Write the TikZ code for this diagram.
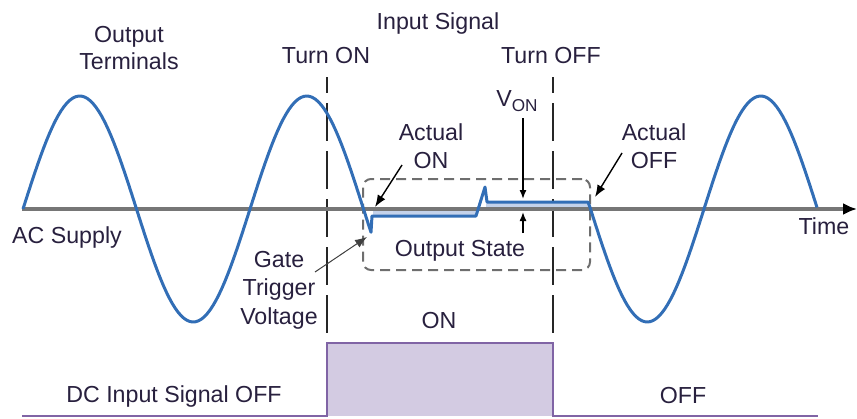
\documentclass[tikz,border=0pt]{standalone}
\usepackage{fontspec}
\setmainfont{Liberation Sans}
\usetikzlibrary{arrows.meta,positioning,calc}
\definecolor{waveBlue}{RGB}{50,110,182}
\definecolor{bandBlue}{RGB}{196,210,234}
\definecolor{axisGray}{RGB}{118,118,118}
\definecolor{boxGray}{RGB}{110,110,110}
\definecolor{pulseLine}{RGB}{128,100,165}
\definecolor{pulseFill}{RGB}{211,203,226}
\definecolor{labelInk}{RGB}{40,32,62}

\begin{document}
\begin{tikzpicture}[x=0.5pt,y=-0.5pt,
    lbl/.style={font=\fontsize{11.6}{13.8}\selectfont,text=labelInk,align=center,inner sep=0pt},
    wave/.style={waveBlue,line width=1.5pt,line join=round},
    guide/.style={black!85,line width=1pt,dash pattern=on 19pt off 5pt,dash phase=11pt},
    arrow/.style={-{Latex[length=6pt,width=4.5pt]},line width=0.7pt},
    small arrow/.style={-{Latex[length=4.5pt,width=3.5pt]},line width=0.7pt}
  ]
    \useasboundingbox (0,0) rectangle (857,418);
    \node[lbl] (outterm) at (129,48) {Output\\Terminals};
    \node[lbl] (insig) at (438,23) {Input Signal};
    \node[lbl] (turnon) at (326,56) {Turn ON};
    \node[lbl] (turnoff) at (551,56) {Turn OFF};
    \node[lbl] (von) at (517,101) {V\raisebox{-0.45ex}{\fontsize{8.6}{10}\selectfont ON}};
    \node[lbl] (acton) at (431,146) {Actual\\ON};
    \node[lbl] (actoff) at (654,146) {Actual\\OFF};
    \node[lbl] (acsup) at (67,237) {AC Supply};
    \node[lbl] (time) at (824,226) {Time};
    \node[lbl,font=\fontsize{11.6}{14.2}\selectfont] (gate) at (279,290) {Gate\\Trigger\\Voltage};
    \node[lbl] (outstate) at (460,251) {Output State};
    \node[lbl] (onlbl) at (439,321) {ON};
    \node[lbl] (dcoff) at (174,396) {DC Input Signal OFF};
    \node[lbl] (offlbl) at (683,396) {OFF};
    \node[draw=boxGray,line width=1pt,dash pattern=on 5pt off 3pt,rounded corners=4pt,
          minimum width=113.5pt,minimum height=45.5pt] (outbox) at (476.5,224.5) {};
    \fill[pulseFill] (327,343) rectangle (553,416);
    \draw[pulseLine,line width=1pt] (22,416) -- (327,416) -- (327,343) -- (553,343) -- (553,416) -- (818,416);
    \coordinate (ontop) at (327,77);
    \coordinate (onbot) at (327,335);
    \coordinate (offtop) at (553,77);
    \coordinate (offbot) at (553,335);
    \draw[guide] (ontop) -- (onbot);
    \draw[guide] (offtop) -- (offbot);
    \fill[bandBlue] (373,208) rectangle (476,217);
    \fill[bandBlue] (486,202) rectangle (588,210);
    \coordinate (zl) at (22,209);
    \coordinate (zr) at (857,209);
    \draw[axisGray,line width=1.6pt,-{Latex[color=black,length=7pt,width=6pt]}] (zl) -- (zr);
    \draw[wave] plot[domain=23:371,samples=120] (\x,{209-113*sin((\x-23)/227*360)})
      -- (372,216) -- (476,216) -- (485,187) -- (487,202) -- (588,202)
      -- plot[domain=590:817,samples=80] (\x,{209-113*sin((\x-23)/227*360)});
    \coordinate (onfoot) at (402,165);
    \coordinate (ontip) at (375,207);
    \coordinate (offfoot) at (622,153);
    \coordinate (offtip) at (595,197);
    \coordinate (vtop) at (523,118);
    \coordinate (vdown) at (523,199);
    \coordinate (vup) at (523,233);
    \coordinate (vupt) at (523,212);
    \coordinate (gfoot) at (315,272);
    \coordinate (gtip) at (367,237);
    \draw[arrow] (onfoot) -- (ontip);
    \draw[arrow] (offfoot) -- (offtip);
    \draw[small arrow] (vtop) -- (vdown);
    \draw[small arrow] (vup) -- (vupt);
    \draw[arrow,black!75,line width=0.5pt] (gfoot) -- (gtip);
  \end{tikzpicture}
\end{document}
